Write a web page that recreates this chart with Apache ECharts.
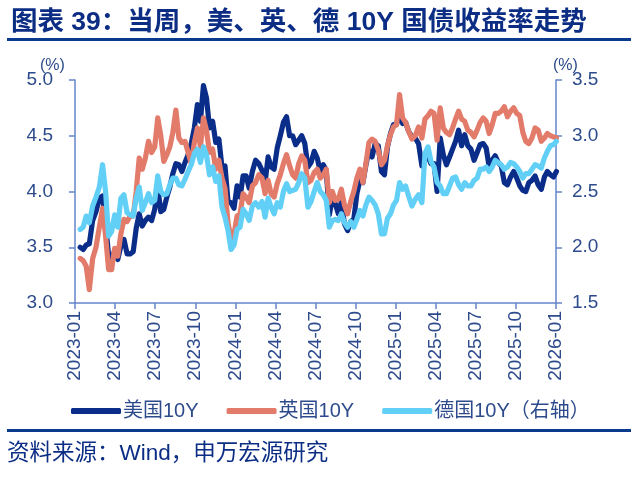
<!DOCTYPE html>
<html>
<head>
<meta charset="utf-8">
<script src="https://cdn.jsdelivr.net/npm/echarts@6/dist/echarts.min.js"></script>
<style>
html,body{margin:0;padding:0;background:#fff;}
#c{width:639px;height:477px;}
</style>
</head>
<body>
<div id="c"></div>
<script>
// Weekly observations (Fridays) starting 2023-01-13
var firstDate = '2023-01-13';
var weekCount = 156;
var xTickYears = ['2023', '2024', '2025', '2026'];
var seriesNames = ['美国10Y', '英国10Y', '德国10Y（右轴）'];

var usYield = [
  3.50,3.48,3.52, 3.53,3.74,3.82,3.94, 3.96,3.70,3.43,3.38,3.47, 3.39,3.51,3.57,3.44,
  3.44,3.46,3.67,3.80, 3.69,3.74,3.77,3.74,3.84, 4.04,3.82,3.84,3.95, 4.04,4.16,4.25,4.24,
  4.18,4.26,4.33,4.43,4.57, 4.78,4.63,4.95,4.84, 4.57,4.63,4.44,4.47, 4.22,4.23,3.91,3.90,3.85,
  4.05,3.95,4.14,4.14, 4.03,4.18,4.28,4.25, 4.19,4.08,4.31,4.22,4.20, 4.39,4.50,4.62,4.67,
  4.50,4.50,4.42,4.46,4.50, 4.43,4.22,4.26,4.36, 4.30,4.18,4.24,4.19, 3.79,3.94,3.89,3.80,3.91,
  3.71,3.65,3.73,3.75, 3.98,4.10,4.08,4.24, 4.37,4.31,4.43,4.41,4.18, 4.15,4.40,4.52,4.60,
  4.60,4.72,4.61,4.62,4.54, 4.49,4.48,4.43,4.23, 4.30,4.31,4.25,4.25, 4.00,4.48,4.33,4.24,
  4.31,4.38,4.45,4.55,4.41, 4.51,4.41,4.38,4.28, 4.35,4.42,4.43,4.39, 4.22,4.28,4.32,4.26,4.23,
  4.08,4.06,4.13,4.18, 4.12,4.05,4.01,4.00,4.08, 4.10,4.14,4.06,4.02, 4.13,4.18,4.15,4.13,
  4.18
];
var ukYield = [
  3.40,3.38,3.33, 3.12,3.40,3.50,3.68, 3.85,3.60,3.30,3.30,3.49, 3.42,3.62,3.75,3.73,
  3.78,3.78,4.00,4.30, 4.20,4.30,4.45,4.35,4.40, 4.66,4.50,4.27,4.33, 4.40,4.53,4.73,4.48,
  4.44,4.45,4.35,4.25,4.44, 4.57,4.40,4.66,4.55, 4.35,4.38,4.20,4.28, 4.12,4.03,3.72,3.58,3.62,
  3.78,3.80,3.98,3.95, 3.90,4.05,4.08,4.15, 4.12,3.98,4.10,3.98,3.95, 4.07,4.15,4.25,4.33,
  4.23,4.15,4.12,4.25,4.32, 4.28,4.08,4.10,4.17, 4.20,4.12,4.15,4.20, 3.90,4.00,3.92,3.93,4.02,
  3.88,3.80,3.91,4.00, 4.12,4.20,4.08,4.25, 4.44,4.47,4.45,4.37,4.24, 4.28,4.41,4.51,4.58,
  4.60,4.87,4.66,4.62,4.54, 4.47,4.50,4.58,4.48, 4.65,4.68,4.72,4.70, 4.46,4.75,4.57,4.53,
  4.51,4.57,4.65,4.72,4.65, 4.63,4.55,4.53,4.49, 4.55,4.62,4.66,4.63, 4.52,4.60,4.70,4.70,4.72,
  4.76,4.67,4.72,4.75, 4.70,4.68,4.53,4.45,4.43, 4.48,4.57,4.55,4.45, 4.48,4.52,4.50,4.49,
  4.48
];
var deYield = [
  2.16,2.18,2.28, 2.22,2.37,2.45,2.54, 2.74,2.50,2.10,2.14,2.29, 2.18,2.44,2.47,2.31,
  2.29,2.28,2.44,2.54, 2.33,2.40,2.48,2.40,2.42, 2.64,2.50,2.47,2.48, 2.56,2.62,2.62,2.56,
  2.55,2.61,2.68,2.74,2.84, 2.88,2.76,2.90,2.83, 2.65,2.72,2.59,2.64, 2.36,2.27,2.15,1.98,2.02,
  2.16,2.18,2.34,2.30, 2.24,2.37,2.40,2.36, 2.41,2.27,2.44,2.36,2.30, 2.40,2.36,2.50,2.57,
  2.50,2.51,2.52,2.58,2.66, 2.62,2.36,2.41,2.50, 2.58,2.50,2.47,2.42, 2.18,2.24,2.25,2.24,2.30,
  2.22,2.18,2.23,2.18, 2.25,2.33,2.28,2.38, 2.45,2.42,2.38,2.30,2.12, 2.12,2.26,2.30,2.38,
  2.42,2.58,2.52,2.55,2.46, 2.37,2.43,2.47,2.40, 2.84,2.90,2.77,2.72, 2.58,2.55,2.48,2.48,
  2.55,2.62,2.63,2.56,2.52, 2.58,2.55,2.55,2.60, 2.62,2.70,2.70,2.72, 2.68,2.72,2.78,2.76,2.74,
  2.70,2.72,2.76,2.75, 2.72,2.68,2.62,2.66,2.66, 2.70,2.74,2.73,2.71, 2.80,2.86,2.91,2.92,
  2.95
];

// convert dates to fractional month index since 2023-01
var baseYear = Number(xTickYears[0]);
function monthIndex(d){
  var y = d.getUTCFullYear(), m = d.getUTCMonth();
  var dim = new Date(Date.UTC(y, m + 1, 0)).getUTCDate();
  return (y - baseYear) * 12 + m + (d.getUTCDate() - 1) / dim;
}
var t0 = Date.parse(firstDate + 'T00:00:00Z');
var xs = [];
for (var i = 0; i < weekCount; i++) xs.push(monthIndex(new Date(t0 + i * 7 * 86400000)));
function pair(arr){ return arr.map(function(v, i){ return [xs[i], v]; }); }

var navy = '#0b2d84';
var labelColor = '#2d4b8c';
var axisColor = '#6585c9';
var fontLat = "'Liberation Sans', Arial, 'Noto Sans CJK SC', sans-serif";
var fontCJK = "'Liberation Sans', 'Noto Sans CJK SC', sans-serif";
var lw = 5.2;

var chart = echarts.init(document.getElementById('c'), null, {renderer: 'canvas'});
chart.setOption({
  animation: false,
  backgroundColor: '#ffffff',
  title: {
    text: '图表 39：当周，美、英、德 10Y 国债收益率走势',
    left: 6, top: 4,
    textStyle: {fontSize: 26.5, fontWeight: 'bold', color: navy, fontFamily: fontCJK}
  },
  graphic: [
    {type: 'rect', shape: {x: 7, y: 38, width: 624, height: 3}, style: {fill: '#0a3a8e'}},
    {type: 'rect', shape: {x: 7, y: 429, width: 624, height: 3}, style: {fill: '#0a3a8e'}},
    {type: 'text', left: 7, top: 443, style: {text: '资料来源：Wind，申万宏源研究', fill: navy, font: "22.5px 'Liberation Sans', 'Noto Sans CJK SC', sans-serif"}},
    {type: 'text', left: 40, top: 58, style: {text: '(%)', fill: labelColor, font: "16px 'Liberation Sans', Arial, sans-serif"}},
    {type: 'text', left: 553, top: 58, style: {text: '(%)', fill: labelColor, font: "16px 'Liberation Sans', Arial, sans-serif"}}
  ],
  legend: {
    left: 66, top: 396,
    itemWidth: 50, itemHeight: 6, itemGap: 28,
    icon: 'roundRect',
    textStyle: {fontSize: 20, color: labelColor, fontFamily: fontCJK, padding: [0, 0, 0, -3]},
    data: seriesNames
  },
  grid: {left: 75, right: 83, top: 80, bottom: 174, containLabel: false},
  xAxis: {
    type: 'value', min: 0, max: 36, interval: 3,
    axisLine: {show: true, lineStyle: {color: axisColor, width: 1.5}},
    axisTick: {show: true, inside: false, length: 6, lineStyle: {color: axisColor, width: 1.5}},
    splitLine: {show: false},
    axisLabel: {
      rotate: 90, fontSize: 19, color: labelColor, fontFamily: fontLat, margin: 8,
      formatter: function(v){
        var y = baseYear + Math.floor(v / 12);
        var m = v % 12 + 1;
        return y + '-' + (m < 10 ? '0' + m : m);
      }
    }
  },
  yAxis: [
    {
      type: 'value', min: 3, max: 5, interval: 0.5, position: 'left',
      axisLine: {show: true, lineStyle: {color: axisColor, width: 1.5}},
      axisTick: {show: true, length: 6, lineStyle: {color: axisColor, width: 1.5}},
      splitLine: {show: false},
      axisLabel: {fontSize: 19, color: labelColor, fontFamily: fontLat, margin: 22,
        formatter: function(v){ return v.toFixed(1); }}
    },
    {
      type: 'value', min: 1.5, max: 3.5, interval: 0.5, position: 'right',
      axisLine: {show: true, lineStyle: {color: axisColor, width: 1.5}},
      axisTick: {show: true, length: 6, lineStyle: {color: axisColor, width: 1.5}},
      splitLine: {show: false},
      axisLabel: {fontSize: 19, color: labelColor, fontFamily: fontLat, margin: 16,
        formatter: function(v){ return v.toFixed(1); }}
    }
  ],
  series: [
    {name: seriesNames[0], type: 'line', yAxisIndex: 0, data: pair(usYield), showSymbol: false, symbol: 'none',
     lineStyle: {width: lw, color: '#0a2d8a', cap: 'round', join: 'round'}, itemStyle: {color: '#0a2d8a'}},
    {name: seriesNames[1], type: 'line', yAxisIndex: 0, data: pair(ukYield), showSymbol: false, symbol: 'none',
     lineStyle: {width: lw, color: '#e37b6b', cap: 'round', join: 'round'}, itemStyle: {color: '#e37b6b'}},
    {name: seriesNames[2], type: 'line', yAxisIndex: 1, data: pair(deYield), showSymbol: false, symbol: 'none',
     lineStyle: {width: lw, color: '#62d0f6', cap: 'round', join: 'round'}, itemStyle: {color: '#62d0f6'}}
  ]
});
</script>
</body>
</html>
